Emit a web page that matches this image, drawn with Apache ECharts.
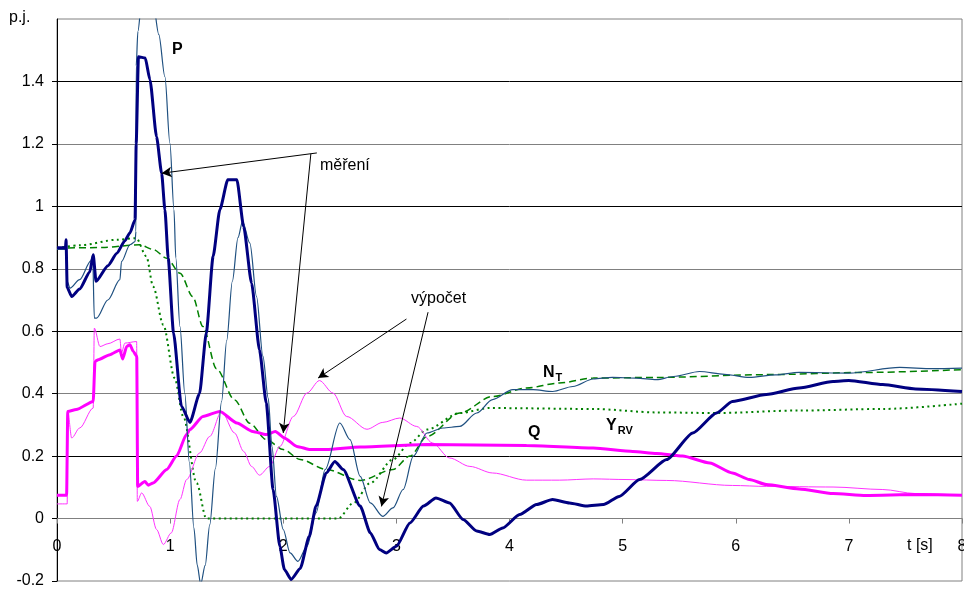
<!DOCTYPE html>
<html>
<head>
<meta charset="utf-8">
<script src="https://cdn.jsdelivr.net/npm/echarts@6/dist/echarts.min.js"></script>
<style>
  html, body { margin: 0; padding: 0; background: #fff; }
  #chart { width: 964px; height: 589px; }
</style>
</head>
<body>
<div id="chart"></div>
<script>
// časové průběhy [t (s), hodnota (p.j.)]
const pMereni = [
  [0, 0.867], [0.075, 0.867], [0.08, 0.893], [0.09, 0.74], [0.13, 0.711], [0.2, 0.735],
  [0.29, 0.79], [0.32, 0.845], [0.345, 0.76], [0.45, 0.81], [0.53, 0.85], [0.6, 0.89],
  [0.645, 0.915], [0.69, 0.957], [0.7, 1.2], [0.72, 1.479], [0.78, 1.475], [0.822, 1.405],
  [0.88, 1.223], [0.925, 1.106], [0.954, 0.989], [0.983, 0.834], [1.03, 0.595], [1.1, 0.36],
  [1.175, 0.308], [1.26, 0.40], [1.32, 0.595], [1.38, 0.84], [1.44, 0.99], [1.51, 1.085],
  [1.59, 1.085], [1.65, 0.935], [1.72, 0.754], [1.79, 0.54], [1.85, 0.37], [1.91, 0.093],
  [1.97, -0.089], [2.01, -0.163], [2.07, -0.195], [2.15, -0.16], [2.23, -0.057], [2.29, 0.04],
  [2.38, 0.146], [2.456, 0.183], [2.53, 0.157], [2.68, 0.04], [2.77, -0.046], [2.85, -0.099],
  [2.91, -0.11], [3.0, -0.089], [3.12, -0.014], [3.24, 0.04], [3.35, 0.066], [3.47, 0.05],
  [3.59, -0.003], [3.71, -0.04], [3.825, -0.051], [3.94, -0.03], [4.09, 0.013], [4.24, 0.045],
  [4.38, 0.061], [4.53, 0.05], [4.68, 0.04], [4.83, 0.045], [4.97, 0.071], [5.15, 0.125],
  [5.39, 0.189], [5.62, 0.274], [5.83, 0.338], [5.97, 0.375], [6.27, 0.397], [6.56, 0.418],
  [6.86, 0.439], [7.0, 0.442], [7.3, 0.429], [7.59, 0.415], [8.0, 0.407]
];
const pVypocet = [
  [0, 0.862], [0.075, 0.862], [0.08, 0.885], [0.09, 0.76], [0.115, 0.738], [0.2, 0.765],
  [0.3, 0.825], [0.315, 0.845], [0.33, 0.642], [0.35, 0.642], [0.45, 0.7], [0.556, 0.765],
  [0.57, 0.823], [0.645, 0.877], [0.69, 0.887], [0.698, 0.92], [0.70, 1.45], [0.715, 1.56],
  [0.75, 1.66], [0.8, 1.7], [0.85, 1.65], [0.9, 1.55], [0.954, 1.415], [0.998, 1.202],
  [1.034, 0.989], [1.05, 0.835], [1.087, 0.615], [1.13, 0.40], [1.17, 0.18], [1.21, -0.03],
  [1.24, -0.15], [1.27, -0.21], [1.31, -0.15], [1.35, -0.02], [1.40, 0.16], [1.455, 0.375],
  [1.50, 0.57], [1.55, 0.76], [1.60, 0.90], [1.64, 0.951], [1.705, 0.882],
  [1.764, 0.711], [1.82, 0.52], [1.867, 0.386], [1.9, 0.231], [1.94, 0.071], [2.0, -0.035],
  [2.06, -0.11], [2.13, -0.137], [2.21, -0.089], [2.29, 0.018], [2.37, 0.157], [2.5, 0.306],
  [2.59, 0.253], [2.68, 0.135], [2.77, 0.05], [2.88, 0.007], [2.97, 0.034], [3.06, 0.093],
  [3.15, 0.2], [3.27, 0.274], [3.41, 0.29], [3.56, 0.295], [3.71, 0.338], [3.85, 0.381],
  [4.03, 0.413], [4.21, 0.413], [4.38, 0.407], [4.56, 0.423], [4.74, 0.447], [4.91, 0.452],
  [5.12, 0.45], [5.3, 0.445], [5.45, 0.455], [5.68, 0.471], [5.9, 0.462], [6.12, 0.452],
  [6.35, 0.46], [6.56, 0.468], [7.0, 0.466], [7.45, 0.484], [7.74, 0.48], [8.0, 0.482]
];
const qMereni = [
  [0, 0.075], [0.085, 0.075], [0.095, 0.343], [0.17, 0.349], [0.32, 0.375], [0.336, 0.503],
  [0.365, 0.509], [0.468, 0.525], [0.556, 0.54], [0.58, 0.511], [0.616, 0.551], [0.645, 0.557],
  [0.674, 0.535], [0.705, 0.52], [0.713, 0.103], [0.777, 0.119], [0.807, 0.107], [0.85, 0.114],
  [0.97, 0.157], [1.057, 0.2], [1.146, 0.27], [1.175, 0.285], [1.29, 0.327], [1.44, 0.343],
  [1.59, 0.306], [1.73, 0.279], [1.85, 0.269], [1.93, 0.279], [2.01, 0.258], [2.12, 0.231],
  [2.24, 0.221], [2.38, 0.221], [2.68, 0.229], [3.27, 0.237], [4.15, 0.234], [4.74, 0.226],
  [5.09, 0.215], [5.3, 0.208], [5.53, 0.2], [5.77, 0.178], [5.97, 0.146], [6.12, 0.125],
  [6.27, 0.109], [6.56, 0.095], [6.86, 0.08], [7.15, 0.074], [7.59, 0.077], [8.0, 0.075]
];
const qVypocet = [
  [0, 0.047], [0.09, 0.047], [0.095, 0.343], [0.13, 0.258], [0.2, 0.29], [0.32, 0.354],
  [0.33, 0.61], [0.38, 0.551], [0.45, 0.56], [0.556, 0.575], [0.57, 0.53], [0.6, 0.562],
  [0.704, 0.567], [0.71, 0.055], [0.748, 0.082], [0.82, 0.039], [0.88, -0.035], [0.94, -0.083],
  [1.01, -0.046], [1.087, 0.061], [1.146, 0.125], [1.26, 0.21], [1.35, 0.263], [1.455, 0.343],
  [1.57, 0.274], [1.65, 0.215], [1.72, 0.167], [1.79, 0.139], [1.88, 0.167], [1.97, 0.231],
  [2.09, 0.327], [2.21, 0.402], [2.32, 0.442], [2.44, 0.402], [2.56, 0.327], [2.74, 0.286],
  [2.88, 0.308], [3.03, 0.322], [3.18, 0.295], [3.32, 0.242], [3.47, 0.194], [3.65, 0.167],
  [3.85, 0.146], [4.15, 0.123], [4.44, 0.123], [4.74, 0.127], [5.03, 0.125], [5.39, 0.122],
  [5.97, 0.106], [6.27, 0.103], [6.86, 0.101], [7.3, 0.093], [7.59, 0.08], [8.0, 0.075]
];
const nT = [
  [0, 0.866], [0.4, 0.868], [0.73, 0.877], [0.85, 0.862], [0.97, 0.834], [1.087, 0.786],
  [1.2, 0.711], [1.29, 0.615], [1.41, 0.48], [1.57, 0.38], [1.705, 0.305], [1.85, 0.253],
  [2.0, 0.221], [2.15, 0.189], [2.38, 0.157], [2.68, 0.122], [2.97, 0.157], [3.12, 0.2],
  [3.27, 0.263], [3.56, 0.338], [3.85, 0.391], [4.15, 0.418], [4.44, 0.434], [4.74, 0.45],
  [5.3, 0.452], [6.27, 0.461], [7.15, 0.468], [8.0, 0.477]
];
const yRV = [
  [0, 0.866], [0.2, 0.875], [0.53, 0.893], [0.7, 0.898], [0.79, 0.84], [0.85, 0.743],
  [0.94, 0.62], [1.04, 0.45], [1.116, 0.327], [1.234, 0.114], [1.32, 0], [2.485, 0],
  [2.62, 0.05], [2.77, 0.114], [2.97, 0.189], [3.12, 0.242], [3.27, 0.285], [3.56, 0.338],
  [3.825, 0.354], [4.74, 0.351], [5.3, 0.34], [5.83, 0.338], [6.56, 0.346], [7.3, 0.351],
  [8.0, 0.368]
];
// šipky popisků: [odkud, kam] v souřadnicích grafu
const sipkyMereni = [
  [[2.297, 1.171], [0.925, 1.106]],
  [[2.244, 1.168], [2.0, 0.274]]
];
const sipkyVypocet = [
  [[3.089, 0.639], [2.308, 0.45]],
  [[3.28, 0.661], [2.868, 0.039]]
];

const FONT = 'Liberation Sans, Arial, sans-serif';
const chart = echarts.init(document.getElementById('chart'));

const GRID_H = 589 - 19 - 8;
// x osa leží na nule (0.2 z rozsahu 1.8 nad spodním okrajem)
const xOffset = -GRID_H * 0.2 / 1.8;

function lineSeries(name, data, color, width, type, smooth) {
  return {
    name,
    type: 'line',
    data,
    showSymbol: false,
    smooth: smooth,
    smoothMonotone: 'x',
    lineStyle: { color, width, type },
    itemStyle: { color },
    animation: false,
    z: 3,
  };
}

const arrowLines = sipkyMereni.concat(sipkyVypocet).map(a => [
  { coord: a[0] }, { coord: a[1] }
]);

chart.setOption({
  backgroundColor: '#fff',
  animation: false,
  grid: {
    left: 57, right: 2, top: 19, bottom: 8,
    outerBoundsMode: 'none',
    containLabel: false,
    show: true,
    borderColor: '#808080',
    borderWidth: 1,
  },
  xAxis: {
    type: 'value',
    position: 'bottom',
    offset: xOffset,
    min: 0, max: 8, interval: 1,
    axisLine: { onZero: false, lineStyle: { color: '#808080', width: 1 } },
    axisTick: { show: true, length: 5, lineStyle: { color: '#808080' } },
    axisLabel: { color: '#000', fontSize: 16, fontFamily: FONT, margin: 20 },
    splitLine: { show: false },
  },
  yAxis: {
    type: 'value',
    min: -0.2, max: 1.6, interval: 0.2,
    axisLine: { show: true, onZero: false, lineStyle: { color: '#000', width: 1 } },
    axisTick: { show: true, length: 5, lineStyle: { color: '#000' } },
    axisLabel: { color: '#000', fontSize: 16, fontFamily: FONT, margin: 13, showMaxLabel: false },
    splitLine: {
      show: true,
      showMinLine: false,
      showMaxLine: false,
      lineStyle: { color: ['#808080', '#000'], width: 1 },
    },
  },
  series: [
    lineSeries('N_T', nT, '#008000', 1.5, [7, 4], 0.3),
    lineSeries('Y_RV', yRV, '#008000', 2, [2, 3.5], 0.3),
    lineSeries('Q výpočet', qVypocet, '#ff33ff', 1, 'solid', 0.3),
    lineSeries('Q měření', qMereni, '#ff00ff', 3, 'solid', 0.2),
    lineSeries('P výpočet', pVypocet, '#1f5080', 1.2, 'solid', 0.3),
    Object.assign(lineSeries('P měření', pMereni, '#000080', 3, 'solid', 0.2), {
      markLine: {
        silent: true,
        animation: false,
        symbol: ['none', 'arrow'],
        symbolSize: [8, 10],
        label: { show: false },
        lineStyle: { color: '#000', width: 1, type: 'solid' },
        data: arrowLines,
      },
    }),
  ],
  graphic: [
    { type: 'text', x: 9, y: 18, style: { text: 'p.j.', font: '16px ' + FONT, fill: '#000', textVerticalAlign: 'middle' } },
    { type: 'text', x: 172, y: 50, style: { text: 'P', font: 'bold 16px ' + FONT, fill: '#000', textVerticalAlign: 'middle' } },
    { type: 'text', x: 320, y: 166, style: { text: 'měření', font: '16px ' + FONT, fill: '#000', textVerticalAlign: 'middle' } },
    { type: 'text', x: 411, y: 299, style: { text: 'výpočet', font: '16px ' + FONT, fill: '#000', textVerticalAlign: 'middle' } },
    { type: 'text', x: 528, y: 433, style: { text: 'Q', font: 'bold 16px ' + FONT, fill: '#000', textVerticalAlign: 'middle' } },
    {
      type: 'text', x: 543, y: 362,
      style: {
        text: 'N{sub|T}', font: 'bold 16px ' + FONT, fill: '#000',
        rich: { sub: { font: 'bold 11px ' + FONT, fill: '#000', padding: [10, 0, 0, 1] } },
      },
    },
    {
      type: 'text', x: 606, y: 415,
      style: {
        text: 'Y{sub|RV}', font: 'bold 16px ' + FONT, fill: '#000',
        rich: { sub: { font: 'bold 11px ' + FONT, fill: '#000', padding: [10, 0, 0, 1] } },
      },
    },
    { type: 'text', x: 907, y: 546, style: { text: 't [s]', font: '16px ' + FONT, fill: '#000', textVerticalAlign: 'middle' } },
  ],
});
</script>
</body>
</html>
